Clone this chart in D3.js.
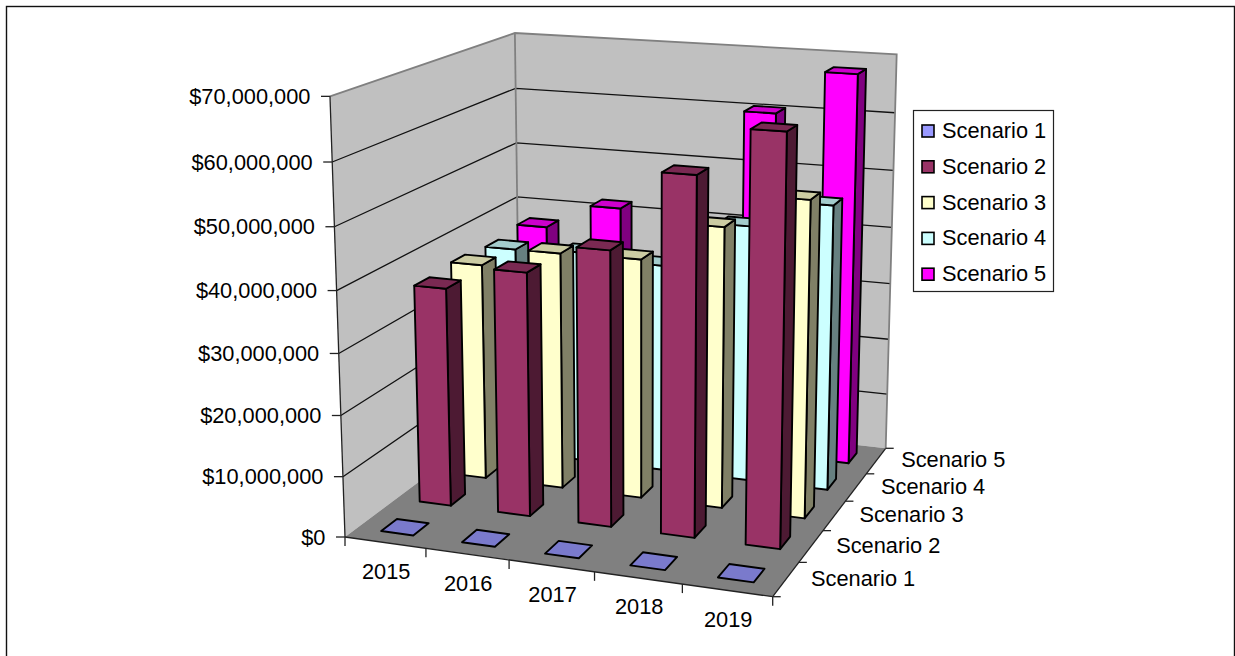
<!DOCTYPE html>
<html>
<head>
<meta charset="utf-8">
<script src="https://cdn.jsdelivr.net/npm/d3@7"></script>
<style>
  html, body { margin: 0; padding: 0; background: #fff; }
  svg { display: block; }
  text { font-family: "Liberation Sans", Arial, sans-serif; fill: #000; }
</style>
</head>
<body>
<svg id="chart" width="1235" height="656"></svg>
<script>
// Chart content
const years = ["2015", "2016", "2017", "2018", "2019"];
const scenarios = ["Scenario 1", "Scenario 2", "Scenario 3", "Scenario 4", "Scenario 5"];
const scenario1 = [0, 0, 0, 0, 0];
const scenario2 = [36600000, 40500000, 45300000, 58200000, 65800000];
const scenario3 = [37100000, 40300000, 40500000, 47000000, 52500000];
const scenario4 = [36500000, 37000000, 36000000, 44000000, 48600000];
const scenario5 = [37300000, 41800000, 44000000, 60400000, 67900000];
const valueTicks = [0, 10000000, 20000000, 30000000, 40000000, 50000000, 60000000, 70000000];
const faceColors = ["#9999ff", "#993366", "#ffffcc", "#ccffff", "#ff00ff"];

const seriesValues = [scenario1, scenario2, scenario3, scenario4, scenario5];

// Scene frame: floor corners on screen, vertical vanishing point, depth terms
const floorA = [345, 537], floorB = [772.7, 596.7], floorC = [885.7, 448.3], floorD = [520, 406.4];
const vanish = [641, 9218];
const depthA = -20.70, depthX = 1.34, depthZ = -3.9;

// Unit-square to floor homography
const dx1 = floorB[0] - floorC[0], dy1 = floorB[1] - floorC[1];
const dx2 = floorD[0] - floorC[0], dy2 = floorD[1] - floorC[1];
const sx = floorA[0] - floorB[0] + floorC[0] - floorD[0];
const sy = floorA[1] - floorB[1] + floorC[1] - floorD[1];
const det = dx1 * dy2 - dx2 * dy1;
const hg = (sx * dy2 - dx2 * sy) / det;
const hh = (dx1 * sy - sx * dy1) / det;
function floorPoint(x, z) {
  const w = 1 + hg * x + hh * z;
  return [
    (floorA[0] + (floorB[0] * (1 + hg) - floorA[0]) * x + (floorD[0] * (1 + hh) - floorA[0]) * z) / w,
    (floorA[1] + (floorB[1] * (1 + hg) - floorA[1]) * x + (floorD[1] * (1 + hh) - floorA[1]) * z) / w
  ];
}

// x and z run 0..1 along the floor, h runs 0..1 up the walls
function project(x, h, z) {
  const f = floorPoint(x, z);
  const t = h / (depthA + depthX * x + depthZ * z);
  return [(f[0] + t * vanish[0]) / (1 + t), (f[1] + t * vanish[1]) / (1 + t)];
}

const xBand = d3.scaleBand().domain(years).range([0, 1]).paddingInner(0.6).paddingOuter(0.3);
const zBand = d3.scaleBand().domain(scenarios).range([0, 1]).paddingInner(0.6).paddingOuter(0.3);
const hScale = d3.scaleLinear().domain([0, 70000000]).range([0, 1]);
const moneyFormat = d3.format("$,");

const svg = d3.select("#chart");
const pathOf = pts => "M" + pts.map(p => p[0].toFixed(2) + "," + p[1].toFixed(2)).join("L") + "Z";
const lineOf = (a, b) => "M" + a[0].toFixed(2) + "," + a[1].toFixed(2) + "L" + b[0].toFixed(2) + "," + b[1].toFixed(2);

// Outer chart border; its lower edge runs past the page
svg.append("rect").attr("x", 6.5).attr("y", 6.5).attr("width", 1228).attr("height", 670)
  .attr("fill", "#fff").attr("stroke", "#111").attr("stroke-width", 1.4);

// Walls and floor
const scene = svg.append("g");
scene.append("path").attr("fill", "#c0c0c0")
  .attr("d", pathOf([project(0,0,0), project(0,1,0), project(0,1,1), project(0,0,1)]));
scene.append("path").attr("fill", "#c0c0c0")
  .attr("d", pathOf([project(0,0,1), project(0,1,1), project(1,1,1), project(1,0,1)]));
scene.append("path").attr("fill", "#808080")
  .attr("d", pathOf([project(0,0,0), project(1,0,0), project(1,0,1), project(0,0,1)]));

// Wall gridlines
scene.selectAll("path.grid").data(valueTicks.slice(1, -1)).join("path")
  .attr("class", "grid").attr("fill", "none").attr("stroke", "#111").attr("stroke-width", 1.3)
  .attr("d", v => {
    const h = hScale(v);
    const a = project(0, h, 0), b = project(0, h, 1), c = project(1, h, 1);
    return "M" + [a, b, c].map(p => p[0].toFixed(2) + "," + p[1].toFixed(2)).join("L");
  });

// Wall outline in mid grey
scene.append("path").attr("fill", "none").attr("stroke", "#808080").attr("stroke-width", 1.8)
  .attr("d", "M" + [project(0,1,0), project(0,1,1), project(1,1,1), project(1,0,1)]
    .map(p => p[0].toFixed(2) + "," + p[1].toFixed(2)).join("L"));
scene.append("path").attr("fill", "none").attr("stroke", "#808080").attr("stroke-width", 1.8)
  .attr("d", lineOf(project(0,1,1), project(0,0,1)));

// Axis lines
const axes = svg.append("g").attr("fill", "none").attr("stroke", "#222").attr("stroke-width", 1.3);
axes.append("path").attr("d", lineOf(project(0,0,0), project(0,1,0)));
axes.append("path").attr("d", lineOf(project(0,0,0), project(1,0,0)));
axes.append("path").attr("d", lineOf(project(1,0,0), project(1,0,1)));

// Value axis ticks and labels
valueTicks.forEach(v => {
  const p = project(0, hScale(v), 0);
  axes.append("path").attr("d", lineOf(p, [p[0] - 9, p[1]]));
  svg.append("text").attr("class", "ylab").attr("x", p[0] - 19.5).attr("y", p[1])
    .attr("text-anchor", "end").attr("dominant-baseline", "central")
    .attr("font-size", 21.8).text(moneyFormat(v));
});

// Category axis ticks and labels
d3.range(0, 6).forEach(i => {
  const p = project(i / 5, 0, 0);
  axes.append("path").attr("d", lineOf(p, [p[0], p[1] + 9]));
});
years.forEach((y, i) => {
  const p = project((i + 0.5) / 5, 0, 0);
  svg.append("text").attr("x", p[0] + 1).attr("y", p[1] + 29)
    .attr("text-anchor", "middle").attr("dominant-baseline", "central")
    .attr("font-size", 21.8).text(y);
});

// Series axis ticks and labels
d3.range(0, 6).forEach(i => {
  const p = project(1, 0, i / 5);
  axes.append("path").attr("d", lineOf(p, [p[0] + 8, p[1]]));
});
scenarios.forEach((s, i) => {
  const p = project(1, 0, (i + 0.5) / 5);
  svg.append("text").attr("x", p[0] + 25).attr("y", p[1] - 1)
    .attr("dominant-baseline", "central")
    .attr("font-size", 21.8).text(s);
});

// Columns, drawn from the back row forward and left to right
const shade = (c, k) => { const r = d3.rgb(c); return d3.rgb(r.r * k, r.g * k, r.b * k).formatHex(); };
const bars = svg.append("g").attr("stroke", "#000").attr("stroke-width", 1.9).attr("stroke-linejoin", "round");
d3.range(scenarios.length - 1, -1, -1).forEach(si => {
  years.forEach((year, yi) => {
    const x0 = xBand(year), x1 = x0 + xBand.bandwidth();
    const z0 = zBand(scenarios[si]), z1 = z0 + zBand.bandwidth();
    const h = hScale(seriesValues[si][yi]);
    const color = faceColors[si];
    if (h > 0) {
      bars.append("path").attr("fill", shade(color, 0.5))
        .attr("d", pathOf([project(x1,0,z0), project(x1,h,z0), project(x1,h,z1), project(x1,0,z1)]));
      bars.append("path").attr("fill", color)
        .attr("d", pathOf([project(x0,0,z0), project(x0,h,z0), project(x1,h,z0), project(x1,0,z0)]));
    }
    bars.append("path").attr("fill", shade(color, 0.8))
      .attr("d", pathOf([project(x0,h,z0), project(x0,h,z1), project(x1,h,z1), project(x1,h,z0)]));
  });
});

// Legend
const legend = svg.append("g");
legend.append("rect").attr("x", 913.5).attr("y", 110.5).attr("width", 140).attr("height", 181)
  .attr("fill", "#fff").attr("stroke", "#222").attr("stroke-width", 1.2);
scenarios.forEach((s, i) => {
  const cy = 130.5 + i * 35.8;
  legend.append("rect").attr("x", 922).attr("y", cy - 5.5).attr("width", 12).attr("height", 12)
    .attr("fill", faceColors[i]).attr("stroke", "#000").attr("stroke-width", 1.6);
  legend.append("text").attr("x", 942).attr("y", cy).attr("dominant-baseline", "central")
    .attr("font-size", 21.8).text(s);
});
</script>
</body>
</html>
